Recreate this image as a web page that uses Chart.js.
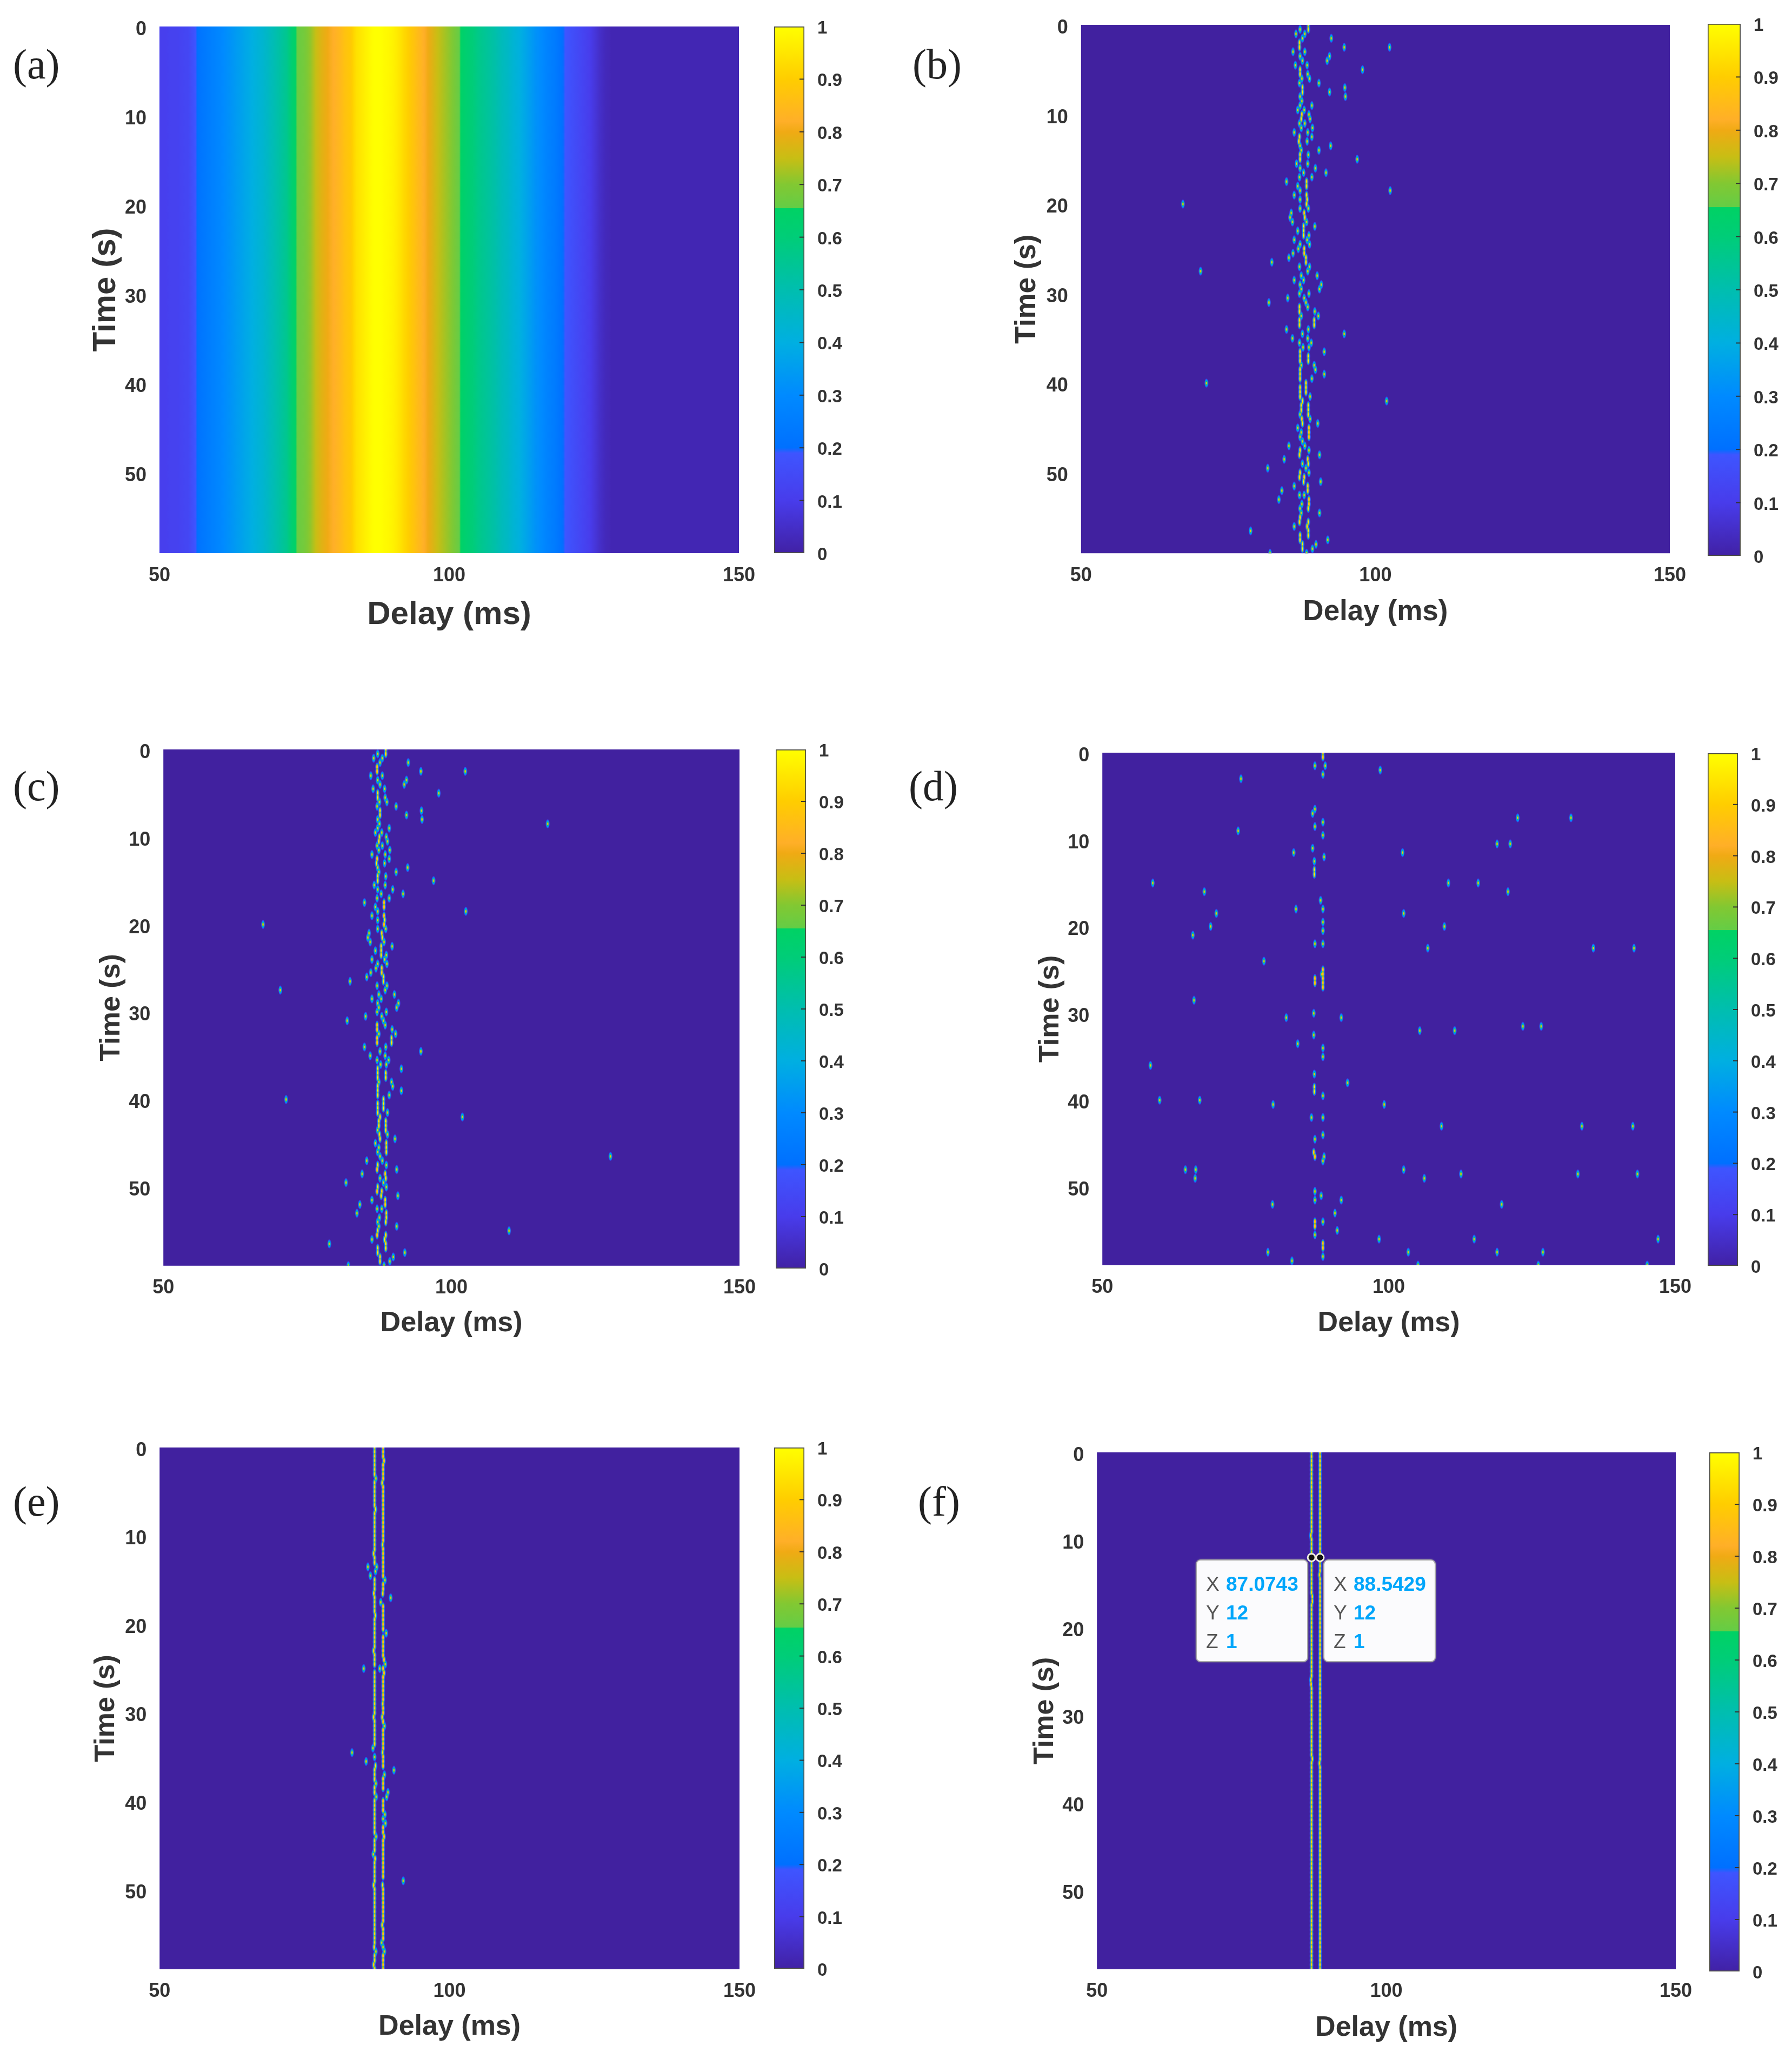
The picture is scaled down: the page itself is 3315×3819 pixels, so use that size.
<!DOCTYPE html>
<html>
<head>
<meta charset="utf-8">
<title>Delay maps</title>
<script src="https://cdn.jsdelivr.net/npm/chart.js"></script>
<style>
    html, body { margin: 0; background: #fff; }
    #page { position: relative; width: 3315px; height: 3819px; overflow: hidden; }
    #page canvas { position: absolute; }
    .tag { position: absolute; font: 78px "Liberation Serif", serif; color: #222; line-height: 1; transform: translateY(-50%); }
    .tip { position: absolute; width: 208px; height: 190px; box-sizing: border-box; background: #fbfbfd; border: 2px solid #aaa; border-radius: 9px; box-shadow: 0 0 3px #888; }
    .tip div { position: absolute; left: 17px; font: 37px "Liberation Sans", sans-serif; line-height: 1; color: #555; white-space: nowrap; }
    .tip b { position: absolute; left: 37px; color: #00a6fb; }
</style>
</head>
<body>
<div id="page"></div>
<script>
    // panel (a): one value per ms of delay, 50..150
    const profileDelays = [];
    for (let d = 50; d <= 150; d += 1) profileDelays.push(d);
    const profileValues = [
        .11, .11, .12, .12, .13, .14, .18, .22, .24, .26, .28, .30, .32, .34, .36, .38, .40, .42, .44, .47,
        .50, .53, .56, .63, .665, .68, .71, .75, .78, .80, .82, .84, .87, .89, .94, .96, .98, 1, 1, .99,
        .98, .96, .93, .90, .87, .84, .81, .78, .75, .73, .71, .68, .65, .62, .60, .57, .55, .53, .51, .48,
        .46, .43, .41, .38, .35, .32, .30, .27, .25, .22, .19, .17, .15, .13, .11, .08, .05, .03, .02, .02,
        .02, .02, .02, .02, .02, .02, .02, .02, .02, .02, .02, .02, .02, .02, .02, .02, .02, .02, .02, .02, .02
    ];

    // panels (b) and (c): delays found in each half-second row
    const sharedRows = [
        [88.6], [87.2, 88.6], [86.5, 88.0], [87.6, 92.5], [87.1], [87.1, 102.4, 94.7], [86.0, 88.0], [87.2, 92.2],
        [87.6, 91.8], [86.4, 88.4], [87.2, 97.8], [87.2, 88.5], [87.5, 88.8], [87.1, 90.4], [87.6, 94.8], [87.6, 92.2],
        [87.2, 94.9], [87.5], [87.2, 89.2], [86.8, 87.9], [87.5, 88.7], [87.4, 88.9], [87.1, 88.0], [87.4, 89.3],
        [86.2, 88.5], [87.1, 89.2], [87.0, 88.4], [87.2, 92.4], [87.4, 90.4], [87.2, 88.6], [87.2, 96.9], [86.6, 88.5],
        [87.2, 89.8], [87.8, 91.6], [87.1, 89.2], [84.9, 88.3], [86.8, 88.3], [87.2, 102.5], [86.2, 88.3], [87.2, 88.4],
        [67.3, 88.3], [87.2, 88.6], [85.7, 87.9], [85.5, 88.0], [85.9, 88.3], [87.8, 89.7], [86.8, 87.8], [87.8, 88.7],
        [86.2, 88.4], [87.2, 88.8], [86.9, 87.9], [86.0, 87.9], [85.3, 88.2], [82.4, 88.2], [87.1, 88.8], [70.3, 88.5],
        [87.4, 90.1], [86.2, 87.8], [87.2, 90.8], [87.4, 90.5], [87.1, 88.7], [85.1, 87.9], [81.9, 88.2], [87.1, 88.5],
        [87.1, 89.7], [87.4, 90.3], [87.1, 89.6], [87.1, 89.6], [84.9, 88.6], [87.6, 94.7], [85.9, 88.5], [87.1, 89.1],
        [87.7, 88.7], [87.2, 91.3], [87.2, 88.6], [87.2, 88.6], [87.4, 89.6], [87.2, 89.8], [87.2, 91.3], [87.2, 89.2],
        [71.3, 88.2], [87.2, 88.2], [87.2, 88.2], [87.2, 88.9], [87.6, 101.9], [87.4, 88.6], [87.4, 88.6], [87.2, 88.6],
        [87.5, 88.9], [87.6, 90.2], [86.8, 88.7], [87.4, 88.7], [87.2, 88.7], [87.6], [85.3, 88.0], [87.2, 88.7],
        [87.1, 90.5], [84.5, 88.5], [87.6, 88.6], [81.7, 88.2], [87.2, 88.7], [87.1, 87.9], [87.8, 90.7], [86.2, 88.5],
        [84.1, 88.5], [87.1, 87.9], [83.6, 88.7], [87.5, 88.7], [87.2, 88.6], [87.4, 90.5], [87.2], [87.1, 88.6],
        [86.2, 88.4], [78.8, 88.6], [87.2, 88.6], [87.2, 91.9], [87.6, 89.9], [87.6, 89.3], [82.1, 88.3]
    ];
    // only panel (c) has these: [row, delay]
    const cExtra = [[17, 116.7], [93, 127.6], [110, 110.0]];

    // panel (d): [row, delay, delay...]
    const dRows = [
        [0, 88.5], [1, 88.5], [3, 87.1, 88.9], [4, 98.5], [5, 88.5], [6, 74.2], [13, 87.1], [14, 86.7], [15, 122.5, 131.8],
        [16, 88.5], [17, 87.1], [18, 73.7], [19, 88.5], [21, 118.9, 121.2], [22, 86.7], [23, 83.4, 102.4], [24, 88.7],
        [25, 87.0], [27, 87.0], [28, 87.0], [30, 58.8, 110.4, 115.6], [32, 67.8, 120.8], [34, 88.1], [36, 83.8, 88.5],
        [37, 69.9, 102.6], [39, 88.5], [40, 68.9, 109.7], [41, 88.5], [42, 65.8], [44, 87.1, 88.5], [45, 106.8, 135.7, 142.8],
        [48, 78.2], [50, 88.5], [51, 88.3, 88.5], [52, 87.1, 88.5], [53, 87.1, 88.5], [54, 88.5], [57, 66.0], [60, 86.9],
        [61, 82.1, 91.7], [63, 123.4, 126.6], [64, 105.4, 111.5], [65, 86.9], [67, 84.1], [68, 88.5], [70, 88.5], [72, 58.4],
        [74, 87.0], [76, 92.8], [77, 87.0], [78, 87.0], [79, 88.5], [80, 60.0, 67.0], [81, 79.8, 99.2], [84, 86.5, 88.5],
        [86, 109.2, 133.7, 142.6], [88, 88.5], [89, 87.1], [92, 86.9], [93, 87.1, 88.7], [94, 88.5], [96, 64.5, 66.3, 102.6],
        [97, 112.6, 133.0, 143.4], [98, 66.2, 106.2], [101, 87.1], [102, 88.2], [103, 87.1, 91.7], [104, 79.7, 119.7],
        [106, 90.6], [108, 87.1, 88.5], [109, 87.1], [110, 91.0], [111, 87.1], [112, 98.3, 114.9, 147.0], [113, 88.5],
        [114, 88.5], [115, 78.9, 103.4, 118.9, 126.9], [116, 88.5], [117, 83.1], [118, 105.1, 126.1, 145.1]
    ];

    // panels (e) and (f): two steady paths, with the rows where a path moved: [row, delay]
    const pathDelays = [87.07, 88.54];
    const eLeftMoved = [[7, 87.29], [14, 87.23], [24, 86.91], [27, 85.92], [28, 87.23], [29, 86.35], [33, 86.95], [38, 87.2], [46, 86.91],
        [50, 85.2], [61, 86.91], [68, 86.79], [69, 83.18], [71, 85.61], [72, 87.23], [76, 87.29], [79, 87.35], [88, 87.32],
        [92, 86.85], [93, 87.16], [99, 86.91], [113, 87.0], [114, 87.29], [117, 86.91]];
    const eRightMoved = [[3, 88.70], [8, 88.38], [22, 88.45], [30, 88.85], [33, 88.48], [34, 89.85], [35, 88.14], [42, 89.07], [48, 88.70],
        [49, 88.91], [51, 88.70], [58, 88.48], [61, 88.38], [63, 88.76], [69, 88.45], [73, 90.41], [74, 88.76], [78, 89.38],
        [79, 89.16], [83, 88.85], [85, 88.94], [88, 88.70], [98, 92.02], [99, 88.45], [108, 88.38], [112, 88.29], [114, 88.76]];
    const eExtra = [[27, 87.44], [50, 87.97]];
    const fLeftMoved = [[19, 86.95], [33, 87.2], [34, 87.2], [52, 86.95], [53, 87.0], [70, 87.2]];
    const fRightMoved = [[28, 88.45], [71, 88.45]];
    const fTipTime = 12;
    const fTipValue = 1;

    const delayTicks = [50, 100, 150];
    const timeTicks = [0, 10, 20, 30, 40, 50];
    const timeMax = 59;
    const barTicks = [0, .1, .2, .3, .4, .5, .6, .7, .8, .9, 1];

    // colormap, the doubled values are the hard steps seen on the colorbar
    const cmapValues = [0, .1, .19, .2, .3, .4, .5, .6, .655, .655, .7, .75, .8, .82, .9, 1];
    const cmapColors = [[65, 33, 165], [72, 60, 235], [62, 85, 255], [0, 112, 255], [0, 138, 255], [0, 175, 225], [0, 190, 175], [0, 205, 120],
        [0, 210, 100], [100, 205, 70], [130, 200, 50], [200, 190, 20], [240, 170, 20], [255, 175, 40], [255, 205, 0], [255, 255, 0]];
    const plotBack = '#41219f';

    const panels = [
        { tag: '(a)', tagX: 24, tagY: 119, left: 295, right: 1366, top: 49, bottom: 1023, barL: 1432, barR: 1488, barT: 49, barB: 1023, titleX: 1133, titleY: 192, titleSize: 60 },
        { tag: '(b)', tagX: 1688, tagY: 119, left: 2000, right: 3088, top: 46, bottom: 1023, barL: 3159, barR: 3220, barT: 44, barB: 1028, titleX: 1128, titleY: 1897, titleSize: 53 },
        { tag: '(c)', tagX: 24, tagY: 1454, left: 302, right: 1366, top: 1386, bottom: 2340, barL: 1435, barR: 1491, barT: 1386, barB: 2346, titleX: 2443, titleY: 202, titleSize: 52 },
        { tag: '(d)', tagX: 1681, tagY: 1454, left: 2039, right: 3097, top: 1392, bottom: 2339, barL: 3159, barR: 3215, barT: 1393, barB: 2341, titleX: 2443, titleY: 1939, titleSize: 52 },
        { tag: '(e)', tagX: 24, tagY: 2777, left: 295, right: 1366, top: 2677, bottom: 3641, barL: 1432, barR: 1488, barT: 2677, barB: 3641, titleX: 3744, titleY: 192, titleSize: 52 },
        { tag: '(f)', tagX: 1698, tagY: 2777, left: 2029, right: 3098, top: 2686, bottom: 3641, barL: 3162, barR: 3218, barT: 2686, barB: 3646, titleX: 3746, titleY: 1929, titleSize: 52 }
    ];

    const page = document.getElementById('page');
    const inkColor = '#333';
    const tickFont = { family: '"Liberation Sans", Arial, sans-serif', size: 36, weight: 'bold' };

    function colorAt(v) {
        if (v <= cmapValues[0]) return cmapColors[0];
        for (let i = cmapValues.length - 1; i > 0; i -= 1) {
            const a = cmapValues[i - 1];
            const b = cmapValues[i];
            if (v >= a && b > a) {
                const t = Math.min(1, (v - a) / (b - a));
                return cmapColors[i - 1].map((c, n) => Math.round(c + (cmapColors[i][n] - c) * t));
            }
        }
        return cmapColors[0];
    }

    function rgb(c) {
        return `rgb(${c[0]},${c[1]},${c[2]})`;
    }

    // small gaussian blob used as a point style
    function makeSprite(peak, sigmaX, sigmaY, floor) {
        const w = Math.ceil(sigmaX * 7) | 1;
        const h = Math.ceil(sigmaY * 6) | 1;
        const sprite = document.createElement('canvas');
        sprite.width = w;
        sprite.height = h;
        const g = sprite.getContext('2d');
        const img = g.createImageData(w, h);
        for (let y = 0; y < h; y += 1) {
            for (let x = 0; x < w; x += 1) {
                const dx = x - (w - 1) / 2;
                const dy = y - (h - 1) / 2;
                const v = peak * Math.exp(-(dx * dx) / (2 * sigmaX * sigmaX) - (dy * dy) / (2 * sigmaY * sigmaY));
                const c = colorAt(v);
                const i = (y * w + x) * 4;
                img.data[i] = c[0];
                img.data[i + 1] = c[1];
                img.data[i + 2] = c[2];
                img.data[i + 3] = Math.max(0, Math.min(1, (v - floor) / 0.1)) * 255;
            }
        }
        g.putImageData(img, 0, 0);
        return sprite;
    }

    const haloSprite = makeSprite(0.64, 1.9, 4.7, 0.1);
    const coreSprite = makeSprite(0.86, 1.9, 4, 0.42);
    const brightSprite = makeSprite(1, 1.7, 6, 0.55);

    function rowsToPoints(rows) {
        const points = [];
        rows.forEach((delays, row) => {
            delays.forEach((delay) => points.push({ x: delay, y: row / 2 }));
        });
        return points;
    }

    function pairsToPoints(list) {
        const points = [];
        list.forEach((entry) => {
            entry.slice(1).forEach((delay) => points.push({ x: delay, y: entry[0] / 2 }));
        });
        return points;
    }

    function pathToPoints(delay, moved) {
        const points = [];
        for (let row = 0; row <= timeMax * 2; row += 1) {
            const hit = moved.find((m) => m[0] === row);
            points.push({ x: hit ? hit[1] : delay, y: row / 2 });
        }
        return points;
    }

    // lower order is drawn on top: cores above halos
    function spotDatasets(points) {
        const isBright = (p) => points.some((q) => Math.abs(q.y - p.y) === 0.5 && Math.abs(q.x - p.x) < 0.2);
        return [
            { data: points, pointStyle: haloSprite, order: 3 },
            { data: points.filter((p) => !isBright(p)), pointStyle: coreSprite, order: 2 },
            { data: points.filter(isBright), pointStyle: brightSprite, order: 1 }
        ];
    }

    function addCanvas(left, top, width, height) {
        const canvas = document.createElement('canvas');
        canvas.width = width;
        canvas.height = height;
        canvas.style.left = `${left}px`;
        canvas.style.top = `${top}px`;
        page.appendChild(canvas);
        return canvas;
    }

    const plotBackground = {
        id: 'plotBackground',
        beforeDatasetsDraw(chart) {
            const a = chart.chartArea;
            chart.ctx.fillStyle = plotBack;
            chart.ctx.fillRect(a.left, a.top, a.right - a.left, a.bottom - a.top);
        }
    };

    const barTickMarks = {
        id: 'barTickMarks',
        afterDatasetsDraw(chart) {
            const ctx = chart.ctx;
            const a = chart.chartArea;
            ctx.save();
            ctx.strokeStyle = '#333';
            ctx.lineWidth = 2;
            barTicks.slice(1, -1).forEach((v) => {
                const y = chart.scales.y.getPixelForValue(v);
                ctx.beginPath();
                ctx.moveTo(a.right - 9, y);
                ctx.lineTo(a.right, y);
                ctx.stroke();
            });
            ctx.restore();
        }
    };

    function drawPanel(panel, type, datasets) {
        const padTop = 60;
        const padRight = 60;
        const titleLine = panel.titleSize * 1.2;
        const axisW = panel.left - panel.titleY + titleLine / 2 - 4;
        const axisH = panel.titleX - panel.bottom + titleLine / 2 + 4;
        const canvas = addCanvas(panel.left - axisW, panel.top - padTop,
            Math.ceil(panel.right - panel.left + axisW + padRight), Math.ceil(panel.bottom - panel.top + padTop + axisH));
        const titleFont = { family: tickFont.family, size: panel.titleSize, weight: 'bold', lineHeight: 1.2 };

        new Chart(canvas, {
            type,
            data: { datasets },
            options: {
                responsive: false,
                animation: false,
                layout: { autoPadding: false, padding: { top: padTop, right: padRight - 1 } },
                elements: { point: { radius: 6, hoverRadius: 6 } },
                plugins: { legend: { display: false }, tooltip: { enabled: false } },
                scales: {
                    x: {
                        type: 'linear',
                        offset: false,
                        min: delayTicks[0],
                        max: delayTicks[delayTicks.length - 1],
                        grid: { display: false },
                        border: { display: false },
                        afterFit: (scale) => { scale.height = axisH; },
                        afterBuildTicks: (scale) => { scale.ticks = delayTicks.map((value) => ({ value })); },
                        ticks: { color: inkColor, font: tickFont, padding: 12, maxRotation: 0 },
                        title: { display: true, text: 'Delay (ms)', color: inkColor, font: titleFont, padding: 0 }
                    },
                    y: {
                        type: 'linear',
                        reverse: true,
                        min: 0,
                        max: timeMax,
                        grid: { display: false },
                        border: { display: false },
                        afterFit: (scale) => { scale.width = axisW; },
                        afterBuildTicks: (scale) => { scale.ticks = timeTicks.map((value) => ({ value })); },
                        // labels sit a little below their tick in the reference, the empty first line pushes them down
                        ticks: {
                            color: inkColor,
                            font: { ...tickFont, lineHeight: '12px' },
                            padding: 16,
                            callback: (value) => ['', String(value)]
                        },
                        title: { display: true, text: 'Time (s)', color: inkColor, font: titleFont, padding: 0 }
                    }
                }
            },
            plugins: [plotBackground]
        });
    }

    function drawColorbar(panel) {
        const padEdge = 60;
        const padLeft = 4;
        const labelW = 90;
        const canvas = addCanvas(panel.barL - padLeft, panel.barT - padEdge,
            panel.barR - panel.barL + padLeft + labelW, panel.barB - panel.barT + padEdge * 2);

        new Chart(canvas, {
            type: 'bar',
            data: {
                labels: [''],
                datasets: [{
                    data: [[barTicks[0], barTicks[barTicks.length - 1]]],
                    barPercentage: 1,
                    categoryPercentage: 1,
                    borderWidth: 2,
                    borderSkipped: false,
                    borderColor: '#4d4d45',
                    backgroundColor(ctx) {
                        const chart = ctx.chart;
                        if (!chart.chartArea) return plotBack;
                        const scale = chart.scales.y;
                        const fill = chart.ctx.createLinearGradient(0, scale.getPixelForValue(0), 0, scale.getPixelForValue(1));
                        cmapValues.forEach((v, i) => fill.addColorStop(v, rgb(cmapColors[i])));
                        return fill;
                    }
                }]
            },
            options: {
                responsive: false,
                animation: false,
                layout: { autoPadding: false, padding: { left: padLeft, top: padEdge, bottom: padEdge } },
                plugins: { legend: { display: false }, tooltip: { enabled: false } },
                scales: {
                    x: { display: false },
                    y: {
                        position: 'right',
                        min: 0,
                        max: 1,
                        grid: { display: false },
                        border: { display: false },
                        afterFit: (scale) => { scale.width = labelW; },
                        afterBuildTicks: (scale) => { scale.ticks = barTicks.map((value) => ({ value })); },
                        ticks: {
                            color: inkColor,
                            font: { family: tickFont.family, size: 33, weight: 'bold', lineHeight: '8px' },
                            padding: 16,
                            callback: (value) => ['', String(value)]
                        }
                    }
                }
            },
            plugins: [barTickMarks]
        });
    }

    // panel (a): column bars sharing one gradient so the map stays smooth
    function profileFill(ctx) {
        const chart = ctx.chart;
        if (!chart.chartArea) return plotBack;
        const scale = chart.scales.x;
        const x0 = scale.getPixelForValue(profileDelays[0]);
        const x1 = scale.getPixelForValue(profileDelays[profileDelays.length - 1]);
        const fill = chart.ctx.createLinearGradient(x0, 0, x1, 0);
        const span = profileDelays.length - 1;
        profileValues.forEach((v, i) => {
            fill.addColorStop(i / span, rgb(colorAt(v)));
            if (i < span) {
                // keep the hard colormap steps sharp between two read values
                for (let s = 1; s < 4; s += 1) {
                    fill.addColorStop((i + s / 4) / span, rgb(colorAt(v + (profileValues[i + 1] - v) * s / 4)));
                }
            }
        });
        return fill;
    }

    drawPanel(panels[0], 'bar', [{
        data: profileDelays.map((x) => ({ x, y: [0, timeMax] })),
        barPercentage: 1.15,
        categoryPercentage: 1,
        backgroundColor: profileFill
    }]);

    drawPanel(panels[1], 'scatter', spotDatasets(rowsToPoints(sharedRows)));

    drawPanel(panels[2], 'scatter', spotDatasets(rowsToPoints(sharedRows).concat(pairsToPoints(cExtra))));

    drawPanel(panels[3], 'scatter', spotDatasets(pairsToPoints(dRows)));

    drawPanel(panels[4], 'scatter', spotDatasets(
        pathToPoints(pathDelays[0], eLeftMoved).concat(pathToPoints(pathDelays[1], eRightMoved), pairsToPoints(eExtra))
    ));

    const fTips = [87.0743, 88.5429];
    drawPanel(panels[5], 'scatter', spotDatasets(
        pathToPoints(pathDelays[0], fLeftMoved).concat(pathToPoints(pathDelays[1], fRightMoved))
    ).concat([{
        data: fTips.map((x) => ({ x, y: fTipTime })),
        order: 0,
        pointStyle: 'circle',
        pointRadius: 7,
        backgroundColor: '#111',
        borderColor: '#efeee0',
        borderWidth: 3
    }]));

    panels.forEach((panel) => {
        drawColorbar(panel);
        const tag = document.createElement('div');
        tag.className = 'tag';
        tag.textContent = panel.tag;
        tag.style.left = `${panel.tagX}px`;
        tag.style.top = `${panel.tagY}px`;
        page.appendChild(tag);
    });

    // the two datatips of panel (f)
    [2212, 2448].forEach((left, i) => {
        const tip = document.createElement('div');
        tip.className = 'tip';
        tip.style.left = `${left}px`;
        tip.style.top = '2884px';
        [['X', fTips[i]], ['Y', fTipTime], ['Z', fTipValue]].forEach((row, n) => {
            const line = document.createElement('div');
            line.style.top = `${25 + n * 53}px`;
            line.textContent = row[0];
            const value = document.createElement('b');
            value.textContent = row[1];
            line.appendChild(value);
            tip.appendChild(line);
        });
        page.appendChild(tip);
    });
</script>
</body>
</html>
